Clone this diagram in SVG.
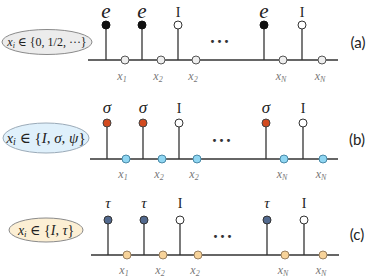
<svg xmlns="http://www.w3.org/2000/svg" width="374" height="279" viewBox="0 0 374 279">
<style>
.base{stroke:#333;stroke-width:1.6;fill:none}
.stem{stroke:#333;stroke-width:1.3}
.math{font-family:"Liberation Serif","DejaVu Serif",serif;font-style:italic;fill:#222}
.rm{font-family:"Liberation Serif","DejaVu Serif",serif;fill:#222}
.xl{font-family:"Liberation Serif","DejaVu Serif",serif;font-style:italic;fill:#777;font-size:12px}
.sub{font-size:8px}
.tag{font-family:"Lato","Open Sans",sans-serif;font-size:15px;fill:#222}
.dots{font-family:"Liberation Serif",serif;font-size:18px;font-weight:bold;fill:#333;letter-spacing:1px}
.e{fill:#111;stroke:#111;stroke-width:1}
.o{fill:#fff;stroke:#333;stroke-width:1}
.g{fill:#eee;stroke:#555;stroke-width:1}
.s{fill:#d24a1f;stroke:#444;stroke-width:1}
.b{fill:#8fd6f2;stroke:#4a8aa8;stroke-width:1}
.t{fill:#52698e;stroke:#333;stroke-width:1}
.p{fill:#f7d39a;stroke:#9a8060;stroke-width:1}
</style>

<g id="legend-a">
<ellipse cx="47" cy="42" rx="45" ry="12.5" fill="#ececec" stroke="#8a8a8a" stroke-width="1"/>
<text x="47" y="46" text-anchor="middle" class="rm" font-size="12"><tspan class="math">x</tspan><tspan class="math" font-size="8" dy="2">i</tspan><tspan dy="-2"> ∈ {0, 1/2, ···}</tspan></text>
</g>
<g id="legend-b">
<ellipse cx="46" cy="138" rx="43" ry="15" fill="#dff0fb" stroke="#9aaab8" stroke-width="1"/>
<text x="46" y="143" text-anchor="middle" class="rm" font-size="15"><tspan class="math">x</tspan><tspan class="math" font-size="10" dy="2">i</tspan><tspan dy="-2"> ∈ {</tspan><tspan class="math">I</tspan><tspan>, </tspan><tspan class="math">σ</tspan><tspan>, </tspan><tspan class="math">ψ</tspan><tspan>}</tspan></text>
</g>
<g id="legend-c">
<ellipse cx="46" cy="230" rx="37" ry="12" fill="#fcefd4" stroke="#8a8a8a" stroke-width="1"/>
<text x="46" y="235" text-anchor="middle" class="rm" font-size="14"><tspan class="math">x</tspan><tspan class="math" font-size="9" dy="2">i</tspan><tspan dy="-2"> ∈ {</tspan><tspan class="math">I</tspan><tspan>, </tspan><tspan class="math">τ</tspan><tspan>}</tspan></text>
</g>

<g id="connectors">
<line class="base" x1="88" y1="60" x2="338" y2="60"/>
<line class="stem" x1="106" y1="25" x2="106" y2="60"/>
<line class="stem" x1="142" y1="25" x2="142" y2="60"/>
<line class="stem" x1="178" y1="25" x2="178" y2="60"/>
<line class="stem" x1="264" y1="25" x2="264" y2="60"/>
<line class="stem" x1="302" y1="25" x2="302" y2="60"/>

<line class="base" x1="90" y1="159" x2="338" y2="159"/>
<line class="stem" x1="107" y1="123" x2="107" y2="159"/>
<line class="stem" x1="143" y1="123" x2="143" y2="159"/>
<line class="stem" x1="179" y1="123" x2="179" y2="159"/>
<line class="stem" x1="266" y1="123" x2="266" y2="159"/>
<line class="stem" x1="303" y1="123" x2="303" y2="159"/>

<line class="base" x1="91" y1="255" x2="339" y2="255"/>
<line class="stem" x1="108" y1="220" x2="108" y2="255"/>
<line class="stem" x1="144" y1="220" x2="144" y2="255"/>
<line class="stem" x1="180" y1="220" x2="180" y2="255"/>
<line class="stem" x1="267" y1="220" x2="267" y2="255"/>
<line class="stem" x1="304" y1="220" x2="304" y2="255"/>
</g>

<g id="panel-a">
<circle class="e" cx="106" cy="25" r="4"/>
<circle class="e" cx="142" cy="25" r="4"/>
<circle class="o" cx="178" cy="25" r="4"/>
<circle class="e" cx="264" cy="25" r="4"/>
<circle class="o" cx="302" cy="25" r="4"/>
<circle class="g" cx="125" cy="60" r="4"/>
<circle class="g" cx="161" cy="60" r="4"/>
<circle class="g" cx="196" cy="60" r="4"/>
<circle class="g" cx="283" cy="60" r="4"/>
<circle class="g" cx="322" cy="60" r="4"/>
<text class="math" x="106" y="18" font-size="21" text-anchor="middle">e</text>
<text class="math" x="142" y="18" font-size="21" text-anchor="middle">e</text>
<text class="rm" x="178" y="17" font-size="14" text-anchor="middle">I</text>
<text class="math" x="264" y="18" font-size="21" text-anchor="middle">e</text>
<text class="rm" x="302" y="17" font-size="14" text-anchor="middle">I</text>
<text class="dots" x="220" y="48" text-anchor="middle">···</text>
<text class="xl" x="122" y="80" text-anchor="middle">x<tspan class="sub" dy="2">1</tspan></text>
<text class="xl" x="158" y="80" text-anchor="middle">x<tspan class="sub" dy="2">2</tspan></text>
<text class="xl" x="193" y="80" text-anchor="middle">x<tspan class="sub" dy="2">2</tspan></text>
<text class="xl" x="281" y="80" text-anchor="middle">x<tspan class="sub" dy="2">N</tspan></text>
<text class="xl" x="320" y="80" text-anchor="middle">x<tspan class="sub" dy="2">N</tspan></text>
<text class="tag" x="358" y="48" text-anchor="middle">(a)</text>
</g>

<g id="panel-b">
<circle class="s" cx="107" cy="123" r="4"/>
<circle class="s" cx="143" cy="123" r="4"/>
<circle class="o" cx="179" cy="123" r="4"/>
<circle class="s" cx="266" cy="123" r="4"/>
<circle class="o" cx="303" cy="123" r="4"/>
<circle class="b" cx="126" cy="159" r="4"/>
<circle class="b" cx="162" cy="159" r="4"/>
<circle class="b" cx="197" cy="159" r="4"/>
<circle class="b" cx="284" cy="159" r="4"/>
<circle class="b" cx="323" cy="159" r="4"/>
<text class="math" x="107" y="113" font-size="17" text-anchor="middle">σ</text>
<text class="math" x="143" y="113" font-size="17" text-anchor="middle">σ</text>
<text class="rm" x="179" y="113" font-size="14" text-anchor="middle">I</text>
<text class="math" x="266" y="113" font-size="17" text-anchor="middle">σ</text>
<text class="rm" x="303" y="113" font-size="14" text-anchor="middle">I</text>
<text class="dots" x="222" y="147" text-anchor="middle">···</text>
<text class="xl" x="123" y="178" text-anchor="middle">x<tspan class="sub" dy="2">1</tspan></text>
<text class="xl" x="159" y="178" text-anchor="middle">x<tspan class="sub" dy="2">2</tspan></text>
<text class="xl" x="194" y="178" text-anchor="middle">x<tspan class="sub" dy="2">2</tspan></text>
<text class="xl" x="282" y="178" text-anchor="middle">x<tspan class="sub" dy="2">N</tspan></text>
<text class="xl" x="321" y="178" text-anchor="middle">x<tspan class="sub" dy="2">N</tspan></text>
<text class="tag" x="357" y="145" text-anchor="middle">(b)</text>
</g>

<g id="panel-c">
<circle class="t" cx="108" cy="220" r="4"/>
<circle class="t" cx="144" cy="220" r="4"/>
<circle class="o" cx="180" cy="220" r="4"/>
<circle class="t" cx="267" cy="220" r="4"/>
<circle class="o" cx="304" cy="220" r="4"/>
<circle class="p" cx="127" cy="255" r="4"/>
<circle class="p" cx="163" cy="255" r="4"/>
<circle class="p" cx="198" cy="255" r="4"/>
<circle class="p" cx="285" cy="255" r="4"/>
<circle class="p" cx="323" cy="255" r="4"/>
<text class="math" x="108" y="208" font-size="15" text-anchor="middle">τ</text>
<text class="math" x="144" y="208" font-size="15" text-anchor="middle">τ</text>
<text class="rm" x="180" y="208" font-size="14" text-anchor="middle">I</text>
<text class="math" x="267" y="208" font-size="15" text-anchor="middle">τ</text>
<text class="rm" x="304" y="208" font-size="14" text-anchor="middle">I</text>
<text class="dots" x="223" y="243" text-anchor="middle">···</text>
<text class="xl" x="124" y="274" text-anchor="middle">x<tspan class="sub" dy="2">1</tspan></text>
<text class="xl" x="160" y="274" text-anchor="middle">x<tspan class="sub" dy="2">2</tspan></text>
<text class="xl" x="195" y="274" text-anchor="middle">x<tspan class="sub" dy="2">2</tspan></text>
<text class="xl" x="283" y="274" text-anchor="middle">x<tspan class="sub" dy="2">N</tspan></text>
<text class="xl" x="321" y="274" text-anchor="middle">x<tspan class="sub" dy="2">N</tspan></text>
<text class="tag" x="357" y="240" text-anchor="middle">(c)</text>
</g>
</svg>
